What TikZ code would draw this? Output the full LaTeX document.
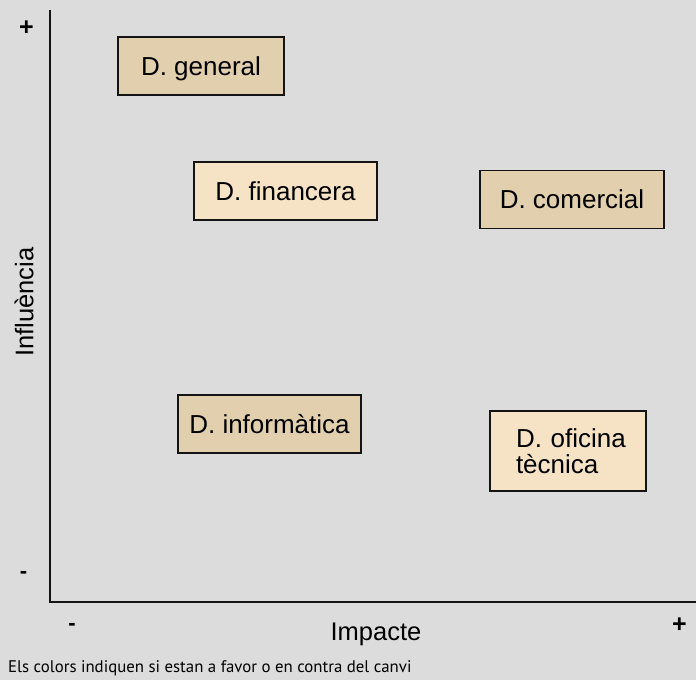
\documentclass[tikz,border=0pt]{standalone}
\usepackage{fontspec}
\setmainfont{Liberation Sans}
\newfontfamily\notefont{PT Sans}
\definecolor{bgcol}{HTML}{DCDCDC}
\definecolor{against}{HTML}{E2CFAD}
\definecolor{favour}{HTML}{F6E3C5}
\definecolor{ink}{HTML}{141414}
\tikzset{
  dept/.style={draw=ink, line width=1.6pt, minimum height=58pt, inner sep=0pt,
    font=\fontsize{26}{27}\selectfont, text height=18.6pt, text depth=0pt},
  axislabel/.style={font=\fontsize{25.5}{28}\selectfont},
  plusmark/.style={font=\fontsize{25}{28}\selectfont\bfseries},
  minusmark/.style={font=\fontsize{22}{26}\selectfont\bfseries},
}
\begin{document}
\begin{tikzpicture}[x=1pt,y=-1pt]
  \fill[bgcol] (0,0) rectangle (696,680);
  \useasboundingbox (0,0) rectangle (696,680);

  % axes
  \coordinate (top) at (50,10);
  \coordinate (origin) at (50,602);
  \coordinate (right) at (696,602);
  \draw[ink, line width=1.8pt] (top) -- (origin) -- (right);

  % axis ends
  \node[plusmark] (ytop) at (26.5,28) {+};
  \node[minusmark] (ybot) at (23.5,575) {-};
  \node[minusmark] (xleft) at (72,627) {-};
  \node[plusmark] (xright) at (679.5,625) {+};
  \node[axislabel] (xlab) at (376,634) {Impacte};
  \node[axislabel, rotate=90] (ylab) at (24,302) {Influència};

  % departments
  \node[dept, fill=against, minimum width=166pt] (gen) at (201,66) {D. general};
  \node[dept, fill=favour, minimum width=183pt] (fin) at (285.5,191) {D. financera};
  \node[dept, fill=against, minimum width=184pt] (com) at (572,199.5) {D. comercial};
  \node[dept, fill=against, minimum width=183pt] (inf) at (269.5,424) {D. informàtica};
  \node[dept, fill=favour, minimum width=156pt, minimum height=80pt,
        text height=, text depth=,
        align=left, text width=130pt] (ofi) at (568,451)
        {\hspace*{13pt}D. oficina\\[-1pt]\hspace*{13pt}tècnica};

  % note
  \node[anchor=west, inner sep=0pt, font=\notefont\fontsize{16.8}{20}\selectfont]
    (note) at (8,668) {Els colors indiquen si estan a favor o en contra del canvi};
\end{tikzpicture}
\end{document}
